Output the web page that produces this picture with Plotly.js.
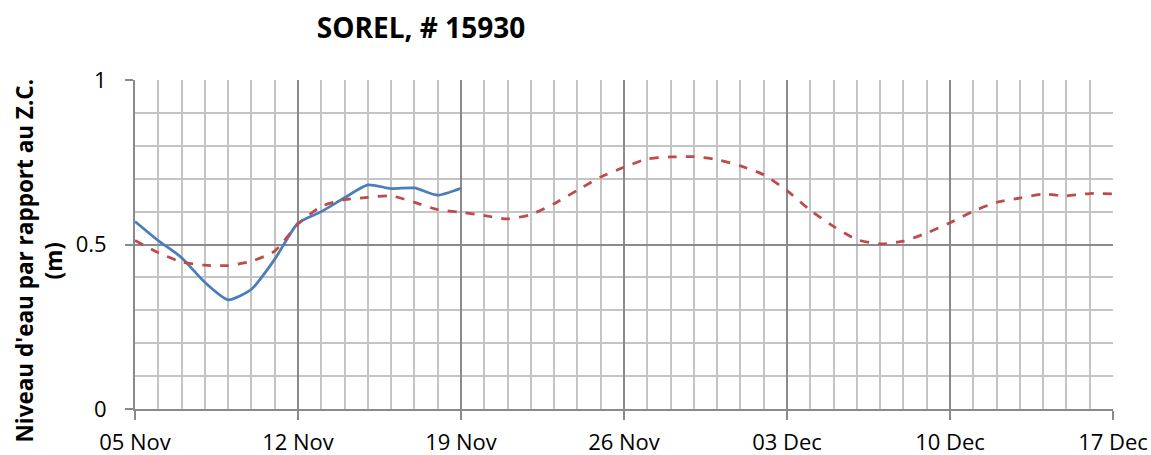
<!DOCTYPE html>
<html>
<head>
<meta charset="utf-8">
<script src="https://cdn.plot.ly/plotly-3.0.1.min.js"></script>
<style>html,body{margin:0;padding:0;background:#fff;}#chart{width:1151px;height:455px;}</style>
</head>
<body>
<div id="chart"></div>
<script>
// Observed water level (blue, solid)
const obsDates = ["2012-11-05","2012-11-06","2012-11-07","2012-11-08","2012-11-09","2012-11-10","2012-11-11","2012-11-12","2012-11-13","2012-11-14","2012-11-15","2012-11-16","2012-11-17","2012-11-18","2012-11-19"];
const obsValues = [0.57,0.512,0.46,0.385,0.332,0.364,0.455,0.565,0.60,0.642,0.681,0.670,0.672,0.650,0.671];

// Forecast water level (red, dashed)
const fcDates = ["2012-11-05","2012-11-06","2012-11-07","2012-11-08","2012-11-09","2012-11-10","2012-11-11","2012-11-12","2012-11-13","2012-11-14","2012-11-15","2012-11-16","2012-11-17","2012-11-18","2012-11-19","2012-11-20","2012-11-21","2012-11-22","2012-11-23","2012-11-24","2012-11-25","2012-11-26","2012-11-27","2012-11-28","2012-11-29","2012-11-30","2012-12-01","2012-12-02","2012-12-03","2012-12-04","2012-12-05","2012-12-06","2012-12-07","2012-12-08","2012-12-09","2012-12-10","2012-12-11","2012-12-12","2012-12-13","2012-12-14","2012-12-15","2012-12-16","2012-12-17"];
const fcValues = [0.512,0.475,0.447,0.437,0.436,0.449,0.48,0.562,0.616,0.636,0.643,0.648,0.628,0.606,0.598,0.588,0.578,0.591,0.624,0.665,0.705,0.735,0.76,0.766,0.767,0.758,0.739,0.712,0.664,0.604,0.555,0.515,0.502,0.51,0.535,0.566,0.601,0.628,0.641,0.653,0.648,0.655,0.654];

const chartTitle = "SOREL, # 15930";
const yTitle = "Niveau d'eau par rapport au Z.C.<br>(m)";
const xRange = ["2012-11-05","2012-12-17"];
const yTicks = [0, 0.5, 1];
const yTickText = ["0", "0.5", "1"];

const DAY = 86400000;

const traces = [
  {x: obsDates, y: obsValues, type: "scatter", mode: "lines",
   line: {color: "#4a7ebb", width: 2.75, shape: "spline", smoothing: 0.6}, hoverinfo: "x+y"},
  {x: fcDates, y: fcValues, type: "scatter", mode: "lines",
   line: {color: "#be4b48", width: 2.75, dash: "dash", shape: "spline", smoothing: 0.6}, hoverinfo: "x+y"}
];

const layout = {
  width: 1151, height: 455,
  margin: {l: 135, r: 38, t: 80, b: 46},
  paper_bgcolor: "#ffffff", plot_bgcolor: "#ffffff",
  showlegend: false,
  font: {family: "Open Sans, sans-serif", color: "#000000"},
  title: {text: "<b>" + chartTitle + "</b>", font: {family: "Open Sans, sans-serif", size: 28, color: "#000"},
          xref: "container", x: 421/1151, xanchor: "center", yref: "container", y: 1 - 28/455, yanchor: "middle"},
  xaxis: {
    type: "date", range: xRange,
    tick0: "2012-11-05", dtick: 7*DAY, tickformat: "%d %b",
    showgrid: true, gridcolor: "#8a8a8a", gridwidth: 2,
    minor: {dtick: DAY, tick0: "2012-11-05", showgrid: true, gridcolor: "#c4c4c4", gridwidth: 2},
    ticks: "outside", ticklen: 9, tickcolor: "#8a8a8a", tickwidth: 2,
    showline: true, linecolor: "#8a8a8a", linewidth: 2, mirror: false,
    tickfont: {size: 22, family: "Open Sans, sans-serif"},
    ticklabelstandoff: 4,
    zeroline: false, fixedrange: true
  },
  yaxis: {
    range: [0, 1], tickvals: yTicks, ticktext: yTickText,
    showgrid: true, gridcolor: "#8a8a8a", gridwidth: 2,
    minor: {dtick: 0.1, tick0: 0, showgrid: true, gridcolor: "#c4c4c4", gridwidth: 2},
    ticks: "outside", ticklen: 8, tickcolor: "#8a8a8a", tickwidth: 2,
    showline: true, linecolor: "#8a8a8a", linewidth: 2,
    tickfont: {size: 22, family: "Open Sans, sans-serif"},
    ticklabelstandoff: 14,
    zeroline: false, fixedrange: true
  },
  annotations: [{
    text: "<b>" + yTitle + "</b>", textangle: -90, showarrow: false,
    xref: "paper", yref: "paper", x: 0, y: 0.5, xanchor: "center", yanchor: "middle",
    xshift: -97, yshift: -16,
    font: {size: 22.5, family: "Open Sans, sans-serif", color: "#000"}
  }]
};

Plotly.newPlot("chart", traces, layout, {displayModeBar: false, staticPlot: true});
</script>
</body>
</html>
